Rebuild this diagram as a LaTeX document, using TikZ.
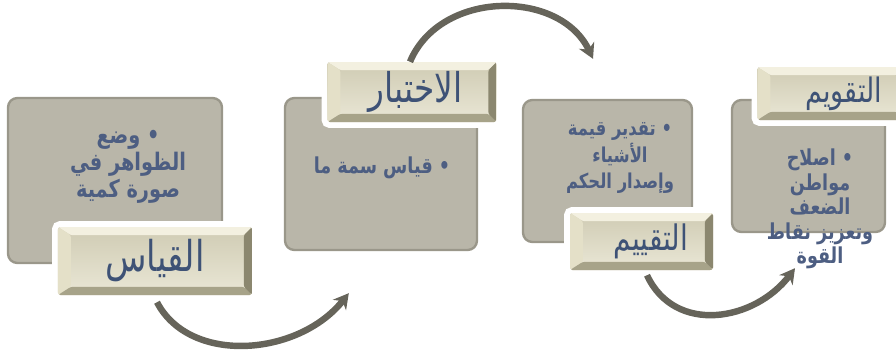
\documentclass[tikz,border=0pt]{standalone}
\usepackage{fontspec}
\newfontfamily\arabicfont[Script=Arabic]{DejaVu Sans}
\TeXXeTstate=1
\usetikzlibrary{arrows.meta, calc}
\definecolor{cpanel}{HTML}{B9B6A9}
\definecolor{cpanelrim}{HTML}{9A978A}
\definecolor{cfacetop}{HTML}{CFCBB3}
\definecolor{cfacebot}{HTML}{EAE7D6}
\definecolor{cbeveltop}{HTML}{F3F0E0}
\definecolor{cbevelleft}{HTML}{E4E0C8}
\definecolor{cbevelbot}{HTML}{A7A389}
\definecolor{cbevelright}{HTML}{8B876F}
\definecolor{cink}{HTML}{4D5E82}
\definecolor{ctag}{HTML}{3E5276}
\definecolor{carrow}{HTML}{66645A}
\newcommand{\ar}[1]{\scalebox{1}[1.25]{\arabicfont\beginR #1\endR}}
\tikzset{
  panel/.style 2 args={draw=cpanelrim, fill=cpanel, rounded corners=8pt, line width=2pt,
    minimum width=#1, minimum height=#2},
  tag/.style 2 args={minimum width=#1, minimum height=#2, rounded corners=2pt,
    top color=cfacetop, bottom color=cfacebot, text=ctag,
    preaction={draw=white, line width=10pt},
    path picture={
      \path (path picture bounding box.north west) coordinate (nw)
            (path picture bounding box.north east) coordinate (ne)
            (path picture bounding box.south west) coordinate (sw)
            (path picture bounding box.south east) coordinate (se);
      \fill[cbeveltop] (nw) -- (ne) -- ([shift={(-7pt,-7pt)}]ne) -- ([shift={(11pt,-7pt)}]nw) -- cycle;
      \fill[cbevelleft] (nw) -- ([shift={(11pt,-7pt)}]nw) -- ([shift={(11pt,7pt)}]sw) -- (sw) -- cycle;
      \fill[cbevelbot] (sw) -- ([shift={(11pt,7pt)}]sw) -- ([shift={(-7pt,7pt)}]se) -- (se) -- cycle;
      \fill[cbevelright] (se) -- ([shift={(-7pt,7pt)}]se) -- ([shift={(-7pt,-7pt)}]ne) -- (ne) -- cycle;
    }},
  tagfont/.style={font=\arabicfont\fontsize{#1}{#1}\selectfont},
  body/.style 2 args={font=\arabicfont\bfseries\fontsize{#1}{#2}\selectfont, text=cink, align=center},
  flow/.style={-{Stealth[length=4.5mm, width=5mm]}, draw=carrow, line width=5.5pt},
}

\begin{document}
\begin{tikzpicture}[x=0.03cm, y=-0.03cm]
  \useasboundingbox (0,0) rectangle (896,353);
  % grey panels
  \node[panel={6.42cm}{4.95cm}] (box1) at (115,180.5) {};
  \node[panel={5.76cm}{4.56cm}] (box2) at (381,174) {};
  \node[panel={5.07cm}{4.26cm}] (box3) at (607.5,171) {};
  \node[panel={4.59cm}{3.96cm}] (box4) at (808.5,166) {};
  \node[body={16.5}{23}] (txt1) at (128,167) {\ar{• وضع}\\ \ar{الظواهر في}\\ \ar{صورة كمية}};
  \node[body={15}{20}] (txt2) at (382,168) {\ar{• قياس سمة ما}};
  \node[body={14}{22.5}] (txt3) at (620,158) {\ar{• تقدير قيمة}\\ \ar{الأشياء}\\ \ar{وإصدار الحكم}};
  \node[body={15}{21}] (txt4) at (820,209) {\ar{• اصلاح}\\ \ar{مواطن}\\ \ar{الضعف}\\ \ar{وتعزيز نقاط}\\ \ar{القوة}};
  % tags
  \node[tag={5.82cm}{2.04cm}, tagfont=29] (lab1) at (155,261) {\ar{القياس}};
  \node[tag={5.07cm}{1.8cm}, tagfont=28] (lab2) at (412,92) {\hspace*{6pt}\ar{الاختبار}};
  \node[tag={4.29cm}{1.71cm}, tagfont=24] (lab3) at (641.5,241.5) {\hspace*{16pt}\ar{التقييم}};
  \node[tag={4.41cm}{1.59cm}, tagfont=23] (lab4) at (831,93.5) {\hspace*{22pt}\ar{التقويم}};
  % arrows
  \draw[flow] ($(lab1.south)+(2,7)$) .. controls +(33,63) and +(-50,63) .. ($(box2.south west)+(65,42)$);
  \draw[flow] ($(lab2.north)+(-2,0)$) .. controls +(30,-72) and +(-33,-70) .. ($(box3.north)+(-14.5,-40)$);
  \draw[flow] ($(lab3.south)+(5.5,5)$) .. controls +(28,60) and +(-40,53) .. ($(box4.south)+(-13.5,35)$);
\end{tikzpicture}
\end{document}
